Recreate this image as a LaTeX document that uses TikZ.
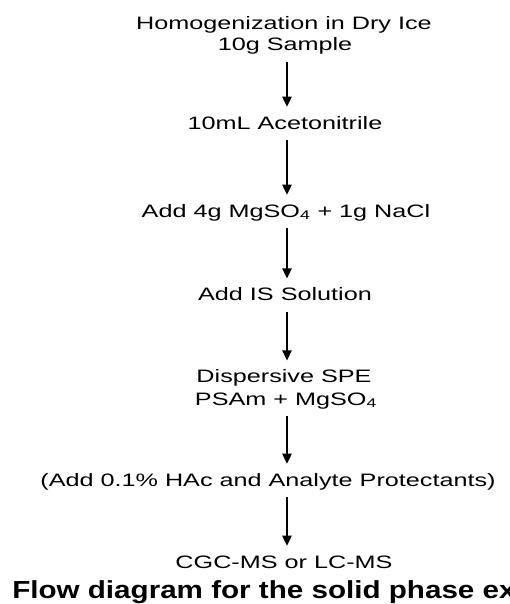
\documentclass[tikz,border=0pt]{standalone}
\usepackage{fontspec}
\newfontfamily\stepfont{Liberation Sans}[FakeStretch=1.4]
\newfontfamily\capfont{Liberation Sans}[FakeStretch=1.2]
\usetikzlibrary{arrows.meta}
\tikzset{
  >={Triangle[length=7.5pt,width=7pt]},
  stepline/.style={anchor=base,inner sep=0pt,text height=10pt,text depth=3pt,
    font={\fontsize{13.5}{16}\stepfont}},
  flow/.style={->,line width=1pt,shorten <=5pt,shorten >=6.5pt},
  caption/.style={anchor=base west,inner sep=0pt,font={\fontsize{18.5}{22}\capfont\bfseries}},
}

\begin{document}
\begin{tikzpicture}[x=0.75pt,y=-0.75pt]
  \useasboundingbox (0,0) rectangle (510,604);
  \coordinate (axis) at (287,0);

  % steps of the extraction
  \node[stepline] (homog) at (284,29.7) {Homogenization in Dry Ice};
  \node[stepline] (sample) at (285,50.7) {10g Sample};
  \node[stepline] (acet) at (285,129) {10mL Acetonitrile};
  \node[stepline] (salts) at (286,217) {Add 4g MgSO\textsubscript{4} + 1g NaCl};
  \node[stepline] (istd) at (285,300.7) {Add IS Solution};
  \node[stepline] (dspe) at (284,382.7) {Dispersive SPE};
  \node[stepline] (psam) at (286,405) {PSAm + MgSO\textsubscript{4}};
  \node[stepline] (hac) at (268,486) {(Add 0.1\% HAc and Analyte Protectants)};
  \node[stepline] (cgc) at (284,568) {CGC-MS or LC-MS};

  \draw[flow] (sample.south -| axis) -- (acet.north -| axis);
  \draw[flow] (acet.south -| axis) -- (salts.north -| axis);
  \draw[flow] (salts.south -| axis) -- (istd.north -| axis);
  \draw[flow] (istd.south -| axis) -- (dspe.north -| axis);
  \draw[flow] (psam.south -| axis) -- (hac.north -| axis);
  \draw[flow] (hac.south -| axis) -- (cgc.north -| axis);

  \node[caption] (title) at (12,598) {Flow diagram for the solid phase ex};
\end{tikzpicture}
\end{document}
